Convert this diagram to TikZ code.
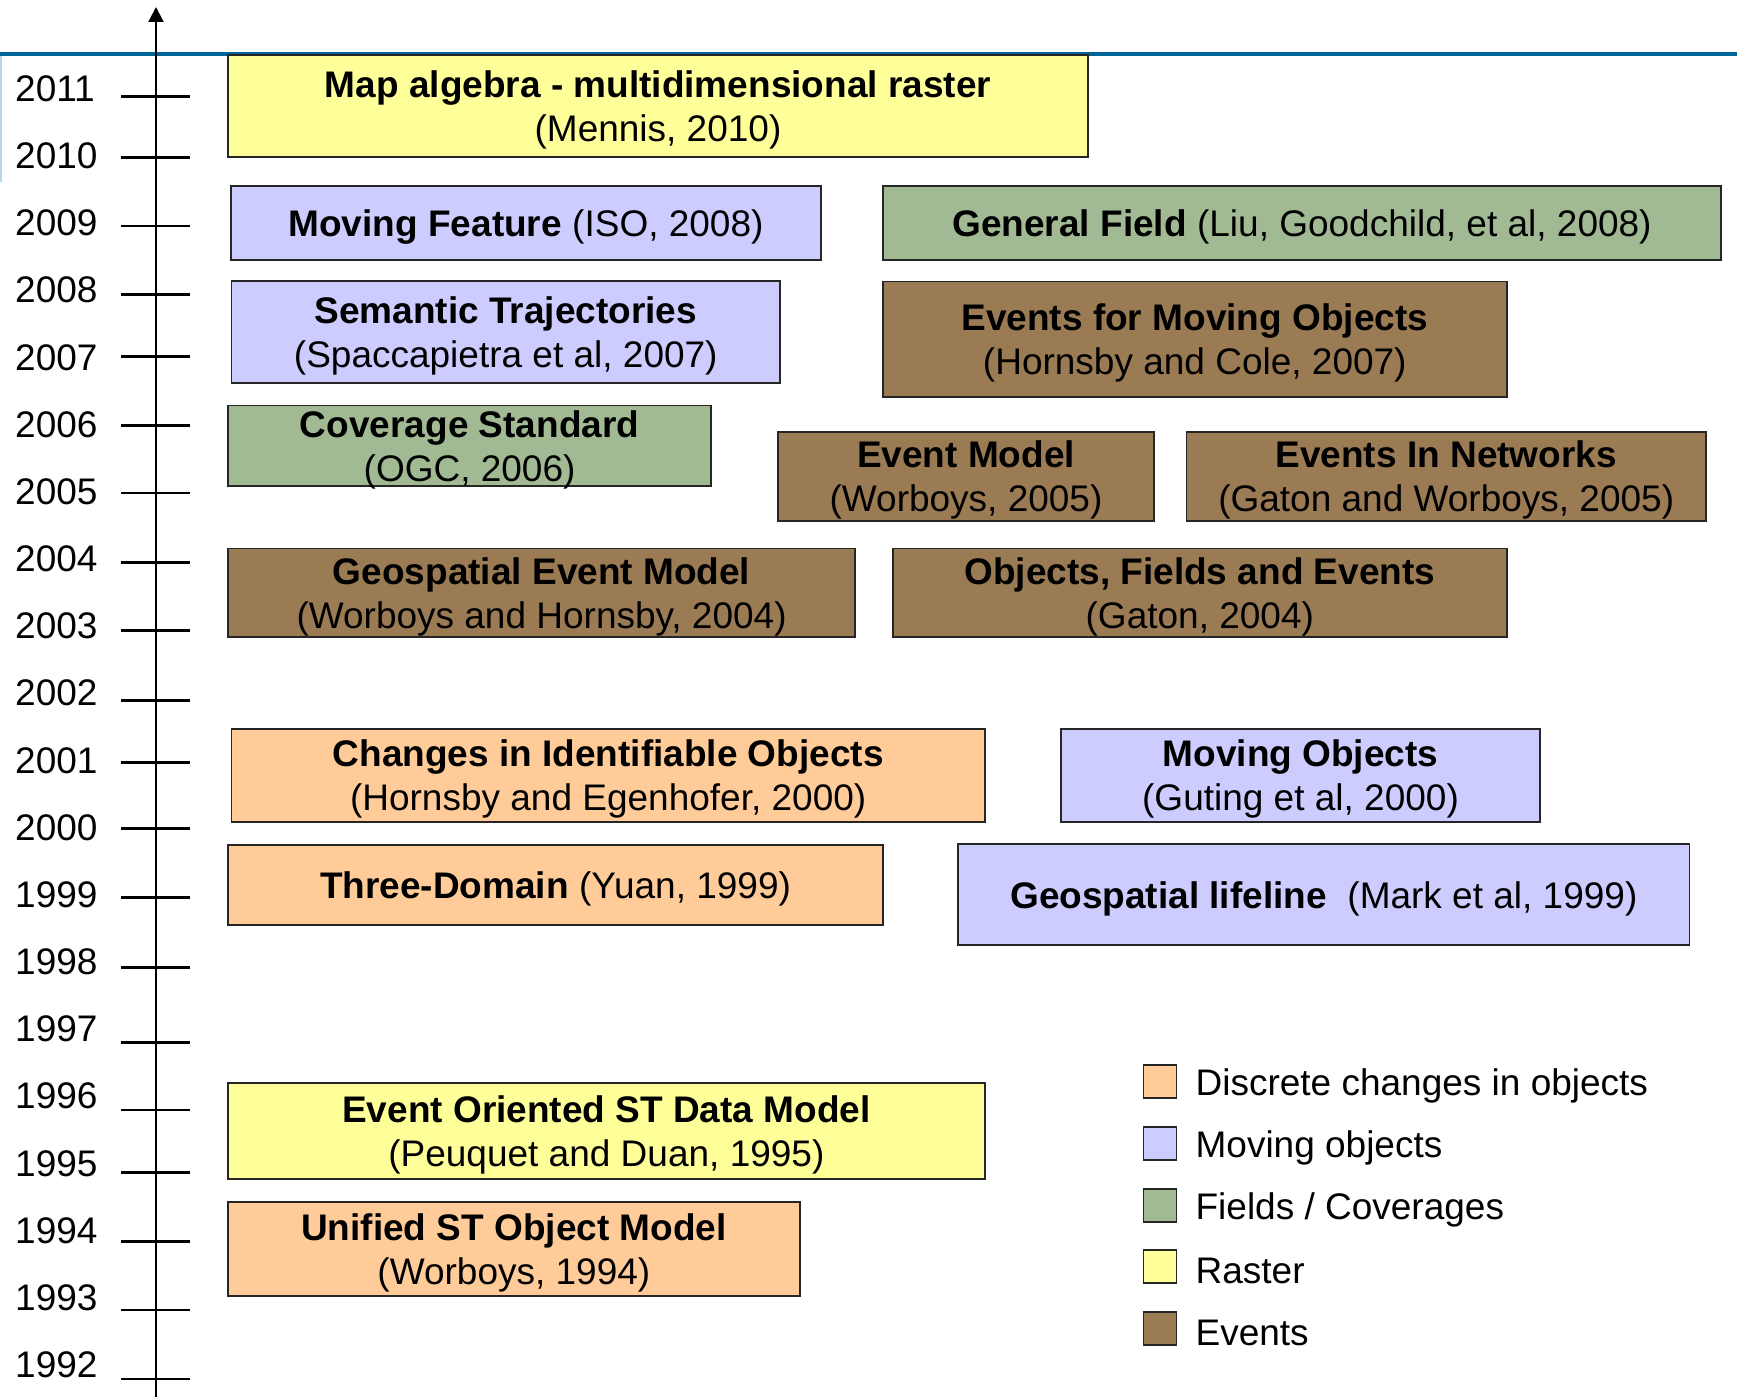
\documentclass[tikz,border=0pt]{standalone}
\usepackage{fontspec}
\setmainfont{Liberation Sans}
\usetikzlibrary{positioning,arrows.meta}

\definecolor{rastercol}{HTML}{FFFF99}
\definecolor{movecol}{HTML}{CCCCFF}
\definecolor{fieldcol}{HTML}{A1BA94}
\definecolor{eventcol}{HTML}{9A7B53}
\definecolor{discretecol}{HTML}{FFCC99}
\definecolor{rulecol}{HTML}{006699}
\definecolor{edgecol}{HTML}{B9D5E6}

\begin{document}
\begin{tikzpicture}[x=1pt, y=-1pt, >={Triangle[length=15pt,width=15pt]},
  every node/.style={font=\fontsize{37}{44}\selectfont},
  box/.style={draw=black!85, line width=1.8pt, inner sep=0pt, align=center, text depth=-2.4pt},
  legsq/.style={draw=black!85, line width=1.8pt, inner sep=0pt, minimum size=33pt},
  legtxt/.style={inner sep=0pt, anchor=west, yshift=-4.5pt}]

\useasboundingbox (0,0) rectangle (1737,1397);

% Header rule
\draw[rulecol, line width=4pt] (0,54.5) -- (1737,54.5);
\draw[edgecol, line width=2pt] (1,56) -- (1,182);

% Time axis
\coordinate (axisbot) at (156,1397);
\coordinate (axistop) at (156,7);
\draw[->, line width=2.2pt] (axisbot) -- (axistop);

% Ticks
\foreach \yr/\ty in {2011/96.4, 2010/157.3, 2009/226, 2008/294.7, 2007/356.7,
  2006/425.4, 2005/493, 2004/562.8, 2003/630.3, 2002/700.1, 2001/762.2,
  2000/828.6, 1999/897.3, 1998/967.1, 1997/1042.4, 1996/1110, 1995/1172.5,
  1994/1241.7, 1993/1310, 1992/1379}
  \draw[line width=2.8pt] (121,\ty) -- (190,\ty);

% Year labels
\foreach \yr [count=\i from 0] in {2011,2010,...,1992}
  \node[anchor=west, inner sep=0pt] (y\yr) at (15,88.6+67.17*\i) {\yr};

% Raster
\node[box, fill=rastercol, minimum width=860pt, minimum height=102pt] (mapalg) at (658,106)
  {\textbf{Map algebra - multidimensional raster}\\(Mennis, 2010)};
\node[box, fill=rastercol, minimum width=756.8pt, minimum height=95.3pt] (eventst) at (606.4,1131)
  {\textbf{Event Oriented ST Data Model}\\(Peuquet and Duan, 1995)};

% Moving objects
\node[box, fill=movecol, minimum width=589.5pt, minimum height=74pt] (movfeat) at (526,223)
  {\textbf{Moving Feature} (ISO, 2008)};
\node[box, fill=movecol, minimum width=548.5pt, minimum height=102pt] (semtraj) at (505.8,332.3)
  {\textbf{Semantic Trajectories}\\(Spaccapietra et al, 2007)};
\node[box, fill=movecol, minimum width=478.5pt, minimum height=93pt] (movobj) at (1300.5,775.5)
  {\textbf{Moving Objects}\\(Guting et al, 2000)};
\node[box, fill=movecol, minimum width=731.2pt, minimum height=100.9pt] (lifeline) at (1323.8,894.6)
  {\textbf{Geospatial lifeline}\ \ (Mark et al, 1999)};

% Fields / coverages
\node[box, fill=fieldcol, minimum width=838.5pt, minimum height=74pt] (genfield) at (1302,223)
  {\textbf{General Field} (Liu, Goodchild, et al, 2008)};
\node[box, fill=fieldcol, minimum width=483pt, minimum height=80.8pt] (covstd) at (469.6,445.9)
  {\textbf{Coverage Standard}\\(OGC, 2006)};

% Events
\node[box, fill=eventcol, minimum width=623.6pt, minimum height=115.2pt] (evmovobj) at (1194.8,339)
  {\textbf{Events for Moving Objects}\\(Hornsby and Cole, 2007)};
\node[box, fill=eventcol, minimum width=376.6pt, minimum height=88.7pt] (evmodel) at (966,476.4)
  {\textbf{Event Model}\\(Worboys, 2005)};
\node[box, fill=eventcol, minimum width=519.5pt, minimum height=88.7pt] (evnet) at (1446.2,476.4)
  {\textbf{Events In Networks}\\(Gaton and Worboys, 2005)};
\node[box, fill=eventcol, minimum width=627.2pt, minimum height=88.6pt] (geoevmod) at (541.6,592.7)
  {\textbf{Geospatial Event Model}\\(Worboys and Hornsby, 2004)};
\node[box, fill=eventcol, minimum width=613.7pt, minimum height=88.6pt] (objfieldev) at (1199.8,592.7)
  {\textbf{Objects, Fields and Events}\\(Gaton, 2004)};

% Discrete changes
\node[box, fill=discretecol, minimum width=753.3pt, minimum height=93pt] (changes) at (608.2,775.5)
  {\textbf{Changes in Identifiable Objects}\\(Hornsby and Egenhofer, 2000)};
\node[box, fill=discretecol, minimum width=654.9pt, minimum height=79.7pt] (threedom) at (555.5,885.2)
  {\textbf{Three-Domain} (Yuan, 1999)};
\node[box, fill=discretecol, minimum width=571.8pt, minimum height=94.1pt] (unified) at (513.9,1249)
  {\textbf{Unified ST Object Model}\\(Worboys, 1994)};

% Legend
\node[legsq, fill=discretecol] (lg1) at (1160,1081.2) {};
\node[legsq, fill=movecol] (lg2) at (1160,1143.2) {};
\node[legsq, fill=fieldcol] (lg3) at (1160,1205.3) {};
\node[legsq, fill=rastercol] (lg4) at (1160,1266.2) {};
\node[legsq, fill=eventcol] (lg5) at (1160,1328.3) {};
\node[legtxt, right=18pt of lg1] (lt1) {Discrete changes in objects};
\node[legtxt, right=18pt of lg2] (lt2) {Moving objects};
\node[legtxt, right=18pt of lg3] (lt3) {Fields / Coverages};
\node[legtxt, right=18pt of lg4] (lt4) {Raster};
\node[legtxt, right=18pt of lg5] (lt5) {Events};

\end{tikzpicture}
\end{document}
